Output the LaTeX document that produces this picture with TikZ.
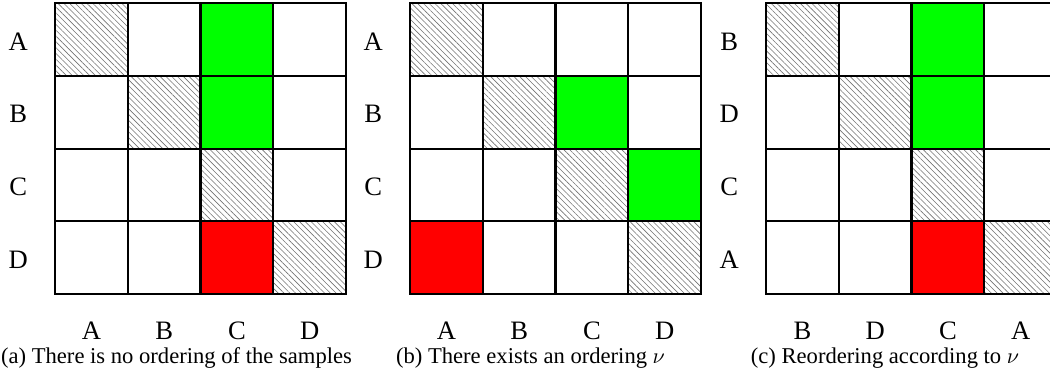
\documentclass[tikz,border=0pt]{standalone}
\usepackage{fontspec}
\setmainfont{Liberation Serif}
\usetikzlibrary{patterns.meta}

\begin{document}
\begin{tikzpicture}[
  x=0.5pt, y=-0.5pt,
  cell/.style={draw, line width=1pt, minimum size=36.35pt, inner sep=0pt, outer sep=0pt},
  same/.style={cell, pattern={Lines[angle=-45, distance=2.05pt, line width=0.3pt]}, pattern color=black!55},
  ok/.style={cell, fill=green},
  bad/.style={cell, fill=red},
  lbl/.style={anchor=base, font=\fontsize{13.3}{15}\selectfont},
  captxt/.style={anchor=base, font=\fontsize{11.3}{13}\selectfont}
]
\useasboundingbox (0,0) rectangle (1050,386);
% --- three 4x4 grids, hatched diagonal ---
\foreach \g/\gx in {a/55, b/410, c/766} {
  \foreach \r in {1,...,4} {
    \foreach \c in {1,...,4}
      \node[cell] (\g-\r-\c) at ({\gx+72.75*(\c-0.5)}, {3.3+72.7*(\r-0.5)}) {};
    \node[same] at (\g-\r-\r) {};
  }
}
% --- coloured entries ---
\node[ok] at (a-1-3) {}; \node[ok] at (a-2-3) {}; \node[bad] at (a-4-3) {};
\node[ok] at (b-2-3) {}; \node[ok] at (b-3-4) {}; \node[bad] at (b-4-1) {};
\node[ok] at (c-1-3) {}; \node[ok] at (c-2-3) {}; \node[bad] at (c-4-3) {};
% --- row and column labels ---
\foreach \n [count=\i] in {A,B,C,D} {
  \node[lbl] (a-row-\i) at ([shift={(-36.7,10.5)}]a-\i-1.west) {\n};
  \node[lbl] (a-col-\i) at ([shift={(0,45.5)}]a-4-\i.south) {\n};
  \node[lbl] (b-row-\i) at ([shift={(-36.7,10.5)}]b-\i-1.west) {\n};
  \node[lbl] (b-col-\i) at ([shift={(0,45.5)}]b-4-\i.south) {\n};
}
\foreach \n [count=\i] in {B,D,C,A} {
  \node[lbl] (c-row-\i) at ([shift={(-36.7,10.5)}]c-\i-1.west) {\n};
  \node[lbl] (c-col-\i) at ([shift={(0,45.5)}]c-4-\i.south) {\n};
}
% --- captions ---
\node[captxt] (cap-a) at (176.5,363) {(a) There is no ordering of the samples};
\node[captxt] (cap-b) at (530.5,363) {(b) There exists an ordering $\nu$};
\node[captxt] (cap-c) at (885,363) {(c) Reordering according to $\nu$};
\end{tikzpicture}
\end{document}
